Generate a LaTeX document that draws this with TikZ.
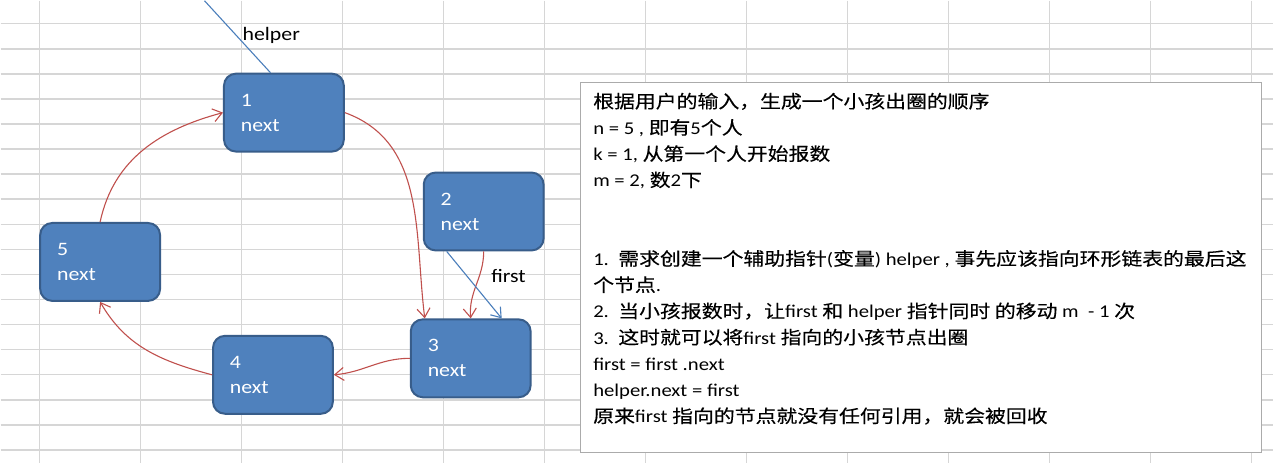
\documentclass[tikz,border=0pt]{standalone}
\usepackage{fontspec}
\setmainfont{Carlito}[FakeStretch=1.15]
\newfontfamily\cjk{Noto Sans CJK SC}[FakeStretch=1.16,FakeBold=0.3]
\usetikzlibrary{arrows.meta,positioning}
\definecolor{cellgrid}{HTML}{D6D6D6}
\definecolor{nodefill}{HTML}{4F81BD}
\definecolor{nodeline}{HTML}{385D8A}
\definecolor{linkred}{HTML}{C0504D}
\definecolor{pointer}{HTML}{4A7EBB}
\definecolor{panelline}{HTML}{ABABAB}
\tikzset{
  listnode/.style={
    draw=nodeline,
    line width=2pt,
    fill=nodefill,
    rounded corners=12pt,
    minimum width=120pt,
    minimum height=78pt,
    text width=86pt,
    inner xsep=17pt,
    align=left,
    text=white,
    font=\fontsize{19}{25}\selectfont
  },
  link/.style={
    -{Straight Barb[length=9pt,width=13pt]},
    draw=linkred,
    line width=1.1pt
  },
  pointerline/.style={
    draw=pointer,
    line width=1.1pt
  },
  ptrtext/.style={
    inner sep=0pt,
    text=black,
    font=\fontsize{19}{23}\selectfont
  },
  notepanel/.style={
    draw=panelline,
    fill=white,
    line width=1.2pt,
    inner sep=0pt,
    minimum width=682pt,
    minimum height=371pt
  },
  notetext/.style={
    inner sep=0pt,
    align=left,
    text=black,
    font=\fontsize{18}{26.25}\selectfont
  },
  gridline/.style={
    draw=cellgrid,
    line width=1.5pt
  }
}

\begin{document}
\begin{tikzpicture}[x=1pt,y=1pt]
  \fill[white] (0,0) rectangle (1274,-463);
  % spreadsheet cells
  \foreach \gx in {0,...,12}
    \draw[gridline] ({39+101.1*\gx},0) -- ({39+101.1*\gx},-463);
  \foreach \gy in {0,...,17}
    \draw[gridline] (0,{-23-25.1*\gy}) -- (1274,{-23-25.1*\gy});

  \node[listnode] (n1) at (283.5,-112) {1\\next};
  \node[listnode, below right=19pt and 78pt of n1] (n2) {2\\next};
  \node[listnode, below=67pt of n2, xshift=-13pt] (n3) {3\\next};
  \node[listnode, left=76pt of n3, yshift=-16.5pt] (n4) {4\\next};
  \node[listnode, above left=33pt and 51pt of n4] (n5) {5\\next};

  \draw[link] (n1.east) to[out=-20,in=97] ([xshift=-46pt]n3.north);
  \draw[link] (n2.south) to[out=-90,in=95] (n3.north);
  \draw[link] (n3.west) to[out=180,in=5] (n4.east);
  \draw[link] (n4.west) to[out=165,in=-60] (n5.south);
  \draw[link] (n5.north) to[out=78,in=-165] (n1.west);

  \coordinate (helpertop) at (204,0);
  \draw[pointerline] (helpertop) -- ([xshift=-13.5pt]n1.north);
  \node[ptrtext, anchor=base west] (helperlbl) at (242,-40) {helper};
  \draw[pointerline, -{Straight Barb[length=9pt,width=13pt]}]
    ([xshift=-37pt]n2.south) -- ([xshift=31pt]n3.north);
  \node[ptrtext, anchor=base west] (firstlbl) at (491,-282) {first};

  \node[notepanel, anchor=north west] (panel) at (580,-81) {};
  \node[notetext, anchor=north west] (notes) at ([shift={(13pt,-11pt)}]panel.north west)
    {{\cjk 根据用户的输入，生成一个小孩出圈的顺序}\\
     n = 5 , {\cjk 即有}5{\cjk 个人}\\
     k = 1, {\cjk 从第一个人开始报数}\\
     m = 2, {\cjk 数}2{\cjk 下}\\[52.5pt]
     1.\ \ {\cjk 需求创建一个辅助指针}({\cjk 变量}) helper , {\cjk 事先应该指向环形链表的最后这}\\
     {\cjk 个节点}.\\
     2.\ \ {\cjk 当小孩报数时，让}first {\cjk 和} helper {\cjk 指针同时 的移动} m\ \ - 1 {\cjk 次}\\
     3.\ \ {\cjk 这时就可以将}first {\cjk 指向的小孩节点出圈}\\
     first = first .next\\
     helper.next = first\\
     {\cjk 原来}first {\cjk 指向的节点就没有任何引用，就会被回收}};
\end{tikzpicture}
\end{document}
